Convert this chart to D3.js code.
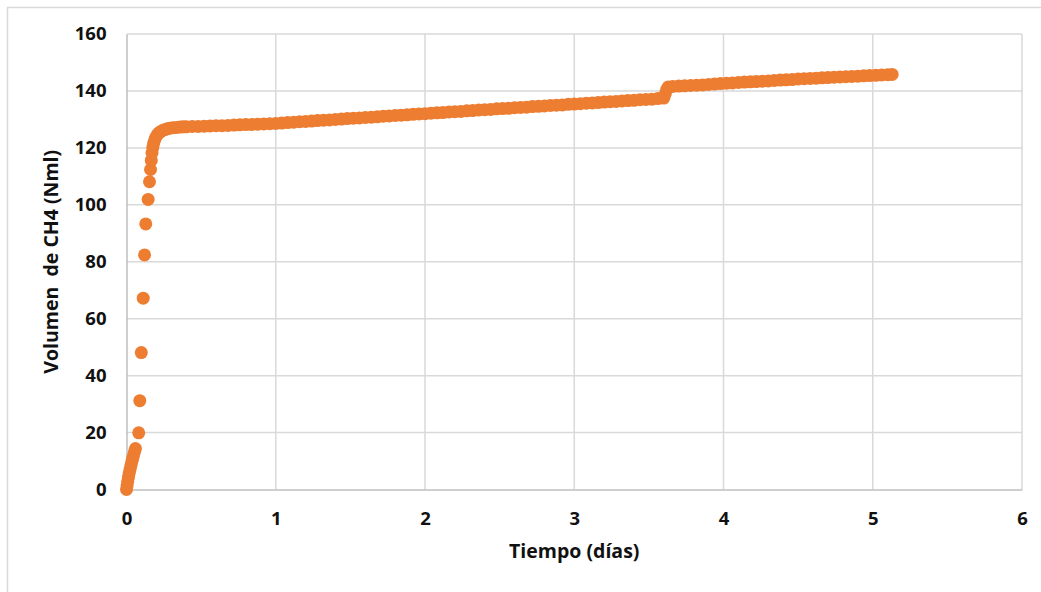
<!DOCTYPE html>
<html>
<head>
<meta charset="utf-8">
<script src="https://cdn.jsdelivr.net/npm/d3@7/dist/d3.min.js"></script>
<style>
  html, body { margin: 0; padding: 0; background: #fff; }
  svg { display: block; }
  text { font-family: "Open Sans", "Liberation Sans", sans-serif; font-weight: 700; fill: #111; }
</style>
</head>
<body>
<svg id="chart" width="1041" height="592"></svg>
<script>
// ---- Data ----
const days = [
  0.000,0.004,0.008,0.013,0.018,0.024,0.030,0.036,0.042,0.048,0.054,0.060,
  0.082,0.089,0.099,0.112,0.121,0.129,0.145,0.154,0.161,0.166,0.171,0.176,
  0.182,0.189,0.197,0.206,0.216,0.228,0.241,0.256,0.272,0.290,0.310,0.335,0.360,0.380,
  0.40,0.44,0.48,0.52,0.56,0.60,0.64,0.68,0.72,0.76,0.80,0.84,0.88,0.92,0.96,1.00,
  1.04,1.08,1.12,1.16,1.20,1.24,1.28,1.32,1.36,1.40,1.44,1.48,1.52,1.56,1.60,1.64,
  1.68,1.72,1.76,1.80,1.84,1.88,1.92,1.96,2.00,2.04,2.08,2.12,2.16,2.20,2.24,2.28,
  2.32,2.36,2.40,2.44,2.48,2.52,2.56,2.60,2.64,2.68,2.72,2.76,2.80,2.84,2.88,2.92,
  2.96,3.00,3.04,3.08,3.12,3.16,3.20,3.24,3.28,3.32,3.36,3.40,3.44,3.48,3.52,3.56,3.60,
  3.610,3.620,3.630,
  3.66,3.70,3.74,3.78,3.82,3.86,3.90,3.94,3.98,4.02,4.06,4.10,4.14,4.18,4.22,4.26,
  4.30,4.34,4.38,4.42,4.46,4.50,4.54,4.58,4.62,4.66,4.70,4.74,4.78,4.82,4.86,4.90,
  4.94,4.98,5.02,5.06,5.10,5.13
];
const volumeCH4 = [
  0.0,1.4,2.8,4.3,5.7,7.1,8.5,9.8,11.0,12.2,13.3,14.4,
  19.9,31.2,48.1,67.2,82.4,93.3,101.9,108.1,112.4,115.6,118.2,120.1,
  121.6,122.8,123.8,124.6,125.2,125.7,126.1,126.4,126.7,126.9,127.1,127.2,127.3,127.4,
  127.4,127.5,127.5,127.6,127.7,127.8,127.8,127.9,128.0,128.1,128.2,128.2,128.3,128.4,128.5,128.6,
  128.7,128.9,129.0,129.2,129.3,129.4,129.6,129.7,129.8,130.0,130.1,130.3,130.4,130.5,130.7,130.8,
  130.9,131.1,131.2,131.4,131.5,131.6,131.8,131.9,132.0,132.2,132.3,132.4,132.6,132.7,132.8,133.0,
  133.1,133.3,133.4,133.5,133.7,133.8,133.9,134.1,134.2,134.3,134.5,134.6,134.7,134.9,135.0,135.1,
  135.3,135.4,135.5,135.7,135.8,135.9,136.1,136.2,136.3,136.5,136.6,136.7,136.9,137.0,137.1,137.3,137.5,
  139.0,140.6,141.4,
  141.6,141.7,141.8,141.9,142.0,142.1,142.3,142.4,142.6,142.7,142.8,143.0,143.1,143.2,143.3,143.4,
  143.5,143.7,143.8,143.9,144.0,144.2,144.3,144.4,144.5,144.6,144.7,144.8,144.9,145.0,145.1,145.2,
  145.3,145.4,145.5,145.6,145.7,145.8
];
const xTicks = [0, 1, 2, 3, 4, 5, 6];
const yTicks = [0, 20, 40, 60, 80, 100, 120, 140, 160];
const xTitle = "Tiempo (días)";
const yTitle = "Volumen  de CH4 (Nml)";

// ---- Drawing ----
const svg = d3.select("#chart");
svg.append("rect").attr("x", 0).attr("y", 0).attr("width", 1041).attr("height", 592).attr("fill", "#fff");
// outer chart frame
svg.append("rect").attr("x", 7.5).attr("y", 7.5).attr("width", 1060).attr("height", 620)
  .attr("fill", "none").attr("stroke", "#d9d9d9").attr("stroke-width", 1.5);

const x = d3.scaleLinear().domain([0, 6]).range([126.5, 1022]);
const y = d3.scaleLinear().domain([0, 160]).range([489.5, 34]);

// gridlines
const grid = svg.append("g");
grid.selectAll("line.h").data(yTicks.filter(d => d > 0)).join("line")
  .attr("x1", x(0)).attr("x2", x(6)).attr("y1", d => y(d)).attr("y2", d => y(d))
  .attr("stroke", "#d9d9d9").attr("stroke-width", 1.5);
grid.selectAll("line.v").data(xTicks.filter(d => d > 0)).join("line")
  .attr("x1", d => x(d)).attr("x2", d => x(d)).attr("y1", y(0)).attr("y2", y(160))
  .attr("stroke", "#d9d9d9").attr("stroke-width", 1.5);

// axes
const xAxis = svg.append("g").attr("transform", `translate(0,${y(0)})`)
  .call(d3.axisBottom(x).tickValues(xTicks).tickSize(0).tickPadding(22.5).tickFormat(d3.format("d")));
xAxis.select(".domain").attr("stroke", "#bfbfbf").attr("stroke-width", 1.5);
xAxis.selectAll("text").style("font-size", "18.5px").attr("fill", "#111");

const yAxis = svg.append("g").attr("transform", `translate(${x(0)},0)`)
  .call(d3.axisLeft(y).tickValues(yTicks).tickSize(0).tickPadding(20).tickFormat(d3.format("d")));
yAxis.select(".domain").attr("stroke", "#bfbfbf").attr("stroke-width", 1.5);
yAxis.selectAll("text").style("font-size", "18.5px").attr("fill", "#111");

// points
const pts = days.map((d, i) => ({ t: d, v: volumeCH4[i] }));
svg.append("g").selectAll("circle").data(pts).join("circle")
  .attr("cx", d => x(d.t)).attr("cy", d => y(d.v)).attr("r", 6.5)
  .attr("fill", "#ED7D31");

// titles
svg.append("text").attr("x", (x(0) + x(6)) / 2).attr("y", 558)
  .attr("text-anchor", "middle").style("font-size", "19.5px").text(xTitle);
svg.append("text").attr("transform", `translate(58,${(y(0) + y(160)) / 2}) rotate(-90)`)
  .attr("text-anchor", "middle").style("font-size", "19.5px").style("white-space", "pre")
  .attr("xml:space", "preserve").text(yTitle);
</script>
</body>
</html>
